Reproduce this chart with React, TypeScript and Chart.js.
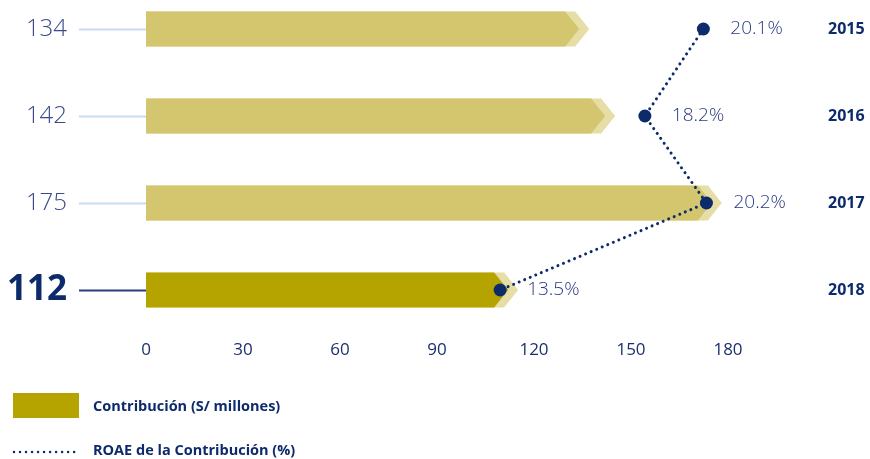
import React, { useEffect, useRef } from 'react';
import { Chart, registerables } from 'chart.js';

Chart.register(...registerables);

// ---- data ----
const years = ['2015', '2016', '2017', '2018'];
const contribution = [134, 142, 175, 112];
const roae = [20.1, 18.2, 20.2, 13.5];
const xTicks = [0, 30, 60, 90, 120, 150, 180];
const legendLabels = ['Contribución (S/ millones)', 'ROAE de la Contribución (%)'];
const highlightIndex = 3;

// ---- styles ----
const FONT = "'Open Sans', 'Noto Sans', sans-serif";
const NAVY = '#0d2a6b';
const TEXT_SOFT = '#3b4a8b';
const BAR = '#d4c66e';
const BAR_HL = '#b5a400';
const CHEVRON = '#e6dea6';
const CONNECTOR = '#c9dcf0';

const customPlugin = {
  id: 'customDraw',
  beforeDatasetsDraw(chart: any) {
    const meta = chart.getDatasetMeta(0);
    const ctx = chart.ctx;
    meta.data.forEach((el: any, i: number) => {
      const { x, y, base, height } = el.getProps(['x', 'y', 'base', 'height'], true);
      const h = height / 2;
      const depth = 14;
      const shift = 10;
      const draw = (off: number, color: string) => {
        ctx.beginPath();
        ctx.moveTo(base, y - h);
        ctx.lineTo(x - depth + off, y - h);
        ctx.lineTo(x + off, y);
        ctx.lineTo(x - depth + off, y + h);
        ctx.lineTo(base, y + h);
        ctx.closePath();
        ctx.fillStyle = color;
        ctx.fill();
      };
      ctx.save();
      draw(shift, CHEVRON);
      draw(0, i === highlightIndex ? BAR_HL : BAR);
      ctx.restore();
    });
  },
  afterDatasetsDraw(chart: any) {
    const meta = chart.getDatasetMeta(1);
    const ctx = chart.ctx;
    ctx.save();
    ctx.font = `300 19px ${FONT}`;
    ctx.fillStyle = '#2a3a80';
    ctx.textAlign = 'left';
    ctx.textBaseline = 'middle';
    meta.data.forEach((pt: any, i: number) => {
      const { x, y } = pt.getProps(['x', 'y'], true);
      ctx.fillText(roae[i].toFixed(1) + '%', x + 27, y);
    });
    ctx.restore();
  },
  afterDraw(chart: any) {
    const ctx = chart.ctx;
    ctx.save();
    ctx.fillStyle = BAR_HL;
    ctx.fillRect(13, 393, 66, 25);
    ctx.font = `bold 14.5px ${FONT}`;
    ctx.fillStyle = NAVY;
    ctx.textAlign = 'left';
    ctx.textBaseline = 'middle';
    ctx.fillText(legendLabels[0], 93, 407);
    ctx.beginPath();
    ctx.setLineDash([0.01, 6]);
    ctx.lineCap = 'round';
    ctx.lineWidth = 2.5;
    ctx.strokeStyle = NAVY;
    ctx.moveTo(14, 452);
    ctx.lineTo(80, 452);
    ctx.stroke();
    ctx.setLineDash([]);
    ctx.fillText(legendLabels[1], 93, 451);
    ctx.restore();
  },
};

export default function App() {
  const ref = useRef<HTMLCanvasElement>(null);

  useEffect(() => {
    if (!ref.current) return;
    const chart = new Chart(ref.current, {
      type: 'bar',
      data: {
        labels: years,
        datasets: [
          {
            type: 'bar',
            label: legendLabels[0],
            data: contribution,
            xAxisID: 'x',
            yAxisID: 'y',
            backgroundColor: 'rgba(0,0,0,0)',
            borderWidth: 0,
            barThickness: 35,
            order: 2,
          } as any,
          {
            type: 'line',
            label: legendLabels[1],
            data: roae,
            xAxisID: 'x2',
            yAxisID: 'y',
            borderColor: NAVY,
            borderWidth: 3,
            borderDash: [0.01, 6],
            borderCapStyle: 'round',
            tension: 0,
            pointRadius: 6.5,
            pointBackgroundColor: NAVY,
            pointBorderWidth: 0,
            clip: false,
            order: 1,
          } as any,
        ],
      },
      options: {
        indexAxis: 'y',
        responsive: false,
        animation: false,
        devicePixelRatio: 1,
        events: [],
        layout: { padding: { top: 29, left: 0, right: 0, bottom: 0 } },
        plugins: {
          legend: { display: false },
          tooltip: { enabled: false },
        },
        scales: {
          y: {
            type: 'category',
            position: 'left',
            offset: false,
            grid: {
              display: true,
              drawOnChartArea: false,
              drawTicks: true,
              tickLength: 67,
              offset: false,
              tickColor: (c: any) => (c.index === highlightIndex ? '#2a3d7e' : CONNECTOR),
              tickWidth: 2,
            },
            border: { display: false },
            ticks: {
              padding: 12,
              callback: (_v: any, i: number) => String(contribution[i]),
              font: (c: any) =>
                c.index === highlightIndex
                  ? { family: FONT, size: 35, weight: 'bold', lineHeight: 0.8 }
                  : { family: FONT, size: 24, weight: '300', lineHeight: 1 },
              color: (c: any) => (c.index === highlightIndex ? NAVY : TEXT_SOFT),
            },
            afterFit: (s: any) => {
              s.width = 146;
            },
          },
          yYear: {
            type: 'category',
            labels: years,
            position: 'right',
            offset: false,
            grid: {
              display: true,
              drawOnChartArea: false,
              drawTicks: true,
              tickLength: 96,
              offset: false,
              tickColor: 'rgba(0,0,0,0)',
            },
            border: { display: false },
            ticks: {
              padding: 4,
              font: { family: FONT, size: 16, weight: 'bold' },
              color: NAVY,
            },
            afterFit: (s: any) => {
              s.width = 142;
            },
          },
          x: {
            type: 'linear',
            position: 'bottom',
            min: 0,
            max: 180,
            grid: { display: false },
            border: { display: false },
            afterBuildTicks: (s: any) => {
              s.ticks = xTicks.map((v) => ({ value: v }));
            },
            ticks: {
              padding: 42,
              font: { family: FONT, size: 17 },
              color: '#1b2f6e',
            },
            afterFit: (s: any) => {
              s.height = 169;
            },
          },
          x2: {
            type: 'linear',
            display: false,
            min: 2,
            max: 20.9,
          },
        },
      } as any,
      plugins: [customPlugin],
    });
    return () => chart.destroy();
  }, []);

  return (
    <div style={{ position: 'fixed', left: 0, top: 0, width: 870, height: 459, background: '#fff' }}>
      <canvas ref={ref} width={870} height={459} style={{ display: 'block' }} />
    </div>
  );
}
